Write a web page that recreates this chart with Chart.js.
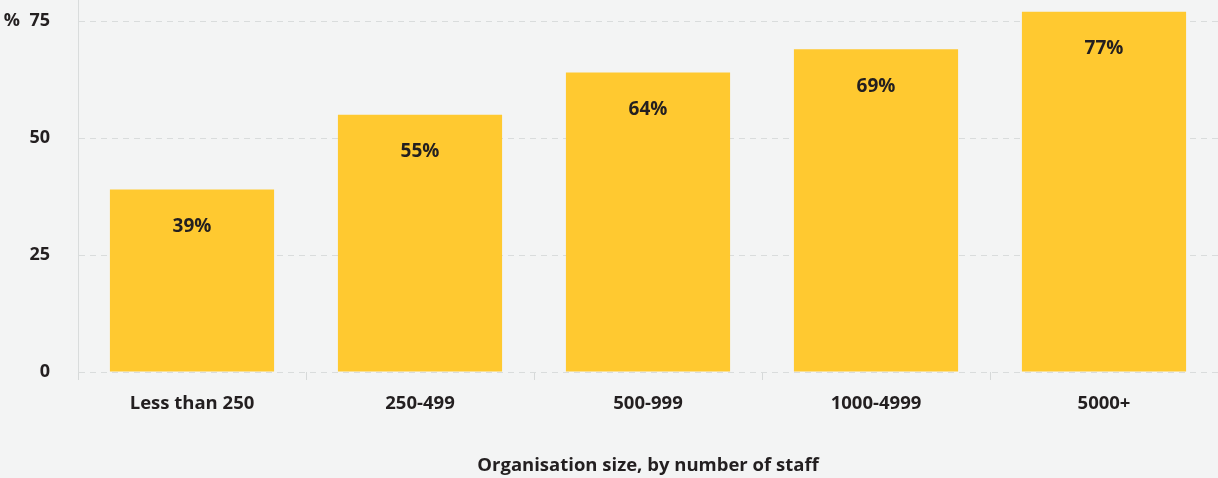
<!DOCTYPE html>
<html>
<head>
<meta charset="utf-8">
<script src="https://cdn.jsdelivr.net/npm/chart.js@4"></script>
<style>
  html, body { margin: 0; padding: 0; background: #f3f4f4; }
  #wrap { width: 1218px; height: 478px; }
</style>
</head>
<body>
<div id="wrap"><canvas id="chart-size"></canvas></div>
<script>
const categories = ["Less than 250", "250-499", "500-999", "1000-4999", "5000+"];
const shares = [39, 55, 64, 69, 77];
const yTicks = [0, 25, 50, 75];

const textColor = "#231f20";
const fontFamily = "'Open Sans', 'Noto Sans', sans-serif";

// labels printed inside each bar, just under its top
const barLabels = {
  id: "barLabels",
  afterDatasetsDraw(chart) {
    const ctx = chart.ctx;
    const meta = chart.getDatasetMeta(0);
    ctx.save();
    ctx.fillStyle = textColor;
    ctx.font = "bold 19px " + fontFamily;
    ctx.textAlign = "center";
    ctx.textBaseline = "middle";
    meta.data.forEach((bar, i) => {
      ctx.fillText(shares[i] + "%", bar.x, bar.y + 37);
    });
    ctx.restore();
  },
};

new Chart(document.getElementById("chart-size"), {
  type: "bar",
  data: {
    labels: categories,
    datasets: [
      {
        data: shares,
        backgroundColor: "#ffc930",
        categoryPercentage: 1,
        barPercentage: 0.72,
      },
    ],
  },
  options: {
    responsive: true,
    maintainAspectRatio: false,
    animation: false,
    layout: { padding: 0 },
    plugins: {
      legend: { display: false },
      tooltip: { enabled: false },
    },
    scales: {
      x: {
        grid: {
          drawOnChartArea: false,
          drawTicks: true,
          tickLength: 8,
          color: "#d6d9d9",
        },
        border: { display: false },
        ticks: {
          color: textColor,
          font: { family: fontFamily, size: 18.5, weight: "bold" },
          padding: 13,
        },
        title: {
          display: true,
          text: "Organisation size, by number of staff",
          color: textColor,
          font: { family: fontFamily, size: 18.5, weight: "bold" },
          padding: { top: 0, bottom: 1 },
        },
        afterFit(scale) {
          scale.height = 106;
        },
      },
      y: {
        min: 0,
        max: 79.5,
        grid: {
          color: "#d9dcdc",
          drawTicks: false,
        },
        border: { display: true, color: "#d9dcdc", width: 1, dash: [6, 5] },
        ticks: {
          stepSize: 25,
          color: textColor,
          font: { family: fontFamily, size: 18, weight: "bold" },
          padding: 28,
          callback: (v) => (v === 75 ? "%  75" : v),
        },
        afterBuildTicks(scale) {
          scale.ticks = yTicks.map((v) => ({ value: v }));
        },
        afterFit(scale) {
          scale.width = 78;
          scale.paddingTop = 0;
          scale.paddingBottom = 0;
        },
      },
    },
  },
  plugins: [barLabels],
});
</script>
</body>
</html>
